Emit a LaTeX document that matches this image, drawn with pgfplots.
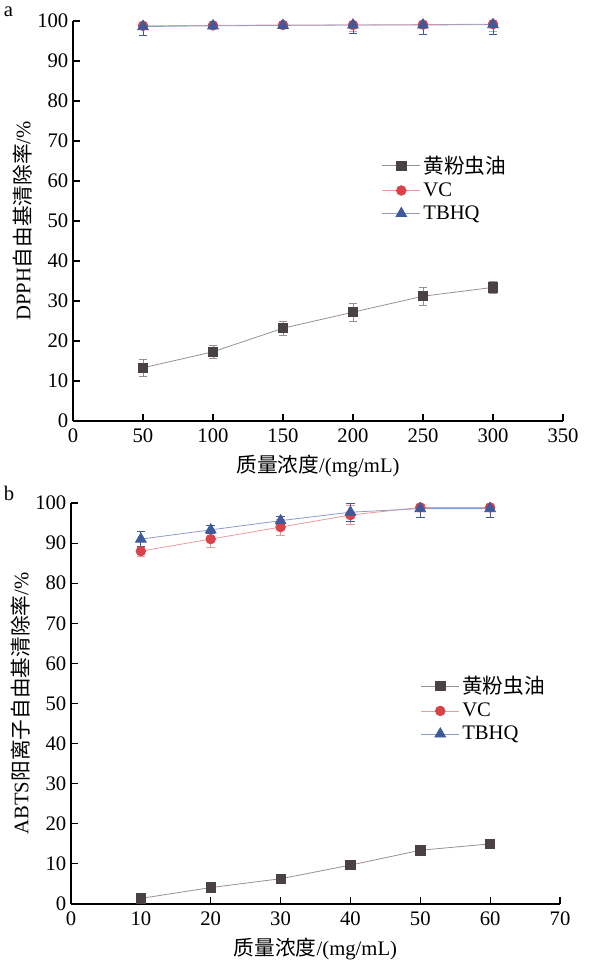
\documentclass[border=0pt]{standalone}
\usepackage{pgfplots}
\pgfplotsset{compat=1.18}
\usepackage{fontspec}
\setmainfont{Liberation Serif}
\newfontfamily\cjk{Noto Sans CJK SC}

\definecolor{oilc}{HTML}{4A4242}
\definecolor{oill}{HTML}{9A9090}
\definecolor{vcc}{HTML}{D8434A}
\definecolor{vcl}{HTML}{EC9A9C}
\definecolor{tbc}{HTML}{3F5A9A}
\definecolor{tbl}{HTML}{8E9CC6}

\pgfplotsset{
  panel/.style={
    scale only axis,
    axis lines=left,
    axis line style={-, black, line width=0.8pt},
    tick align=inside,
    major tick length=5pt,
    tick style={black, line width=0.8pt},
    ymin=0, ymax=100,
    ytick={0,10,...,100},
    /pgf/number format/assume math mode=true,
    tick label style={font=\fontsize{15.5}{17}\selectfont},
    xticklabel style={yshift=-2.5pt},
    label style={font=\fontsize{15.5}{17}\selectfont},
    xlabel style={yshift=-2pt},
    ylabel style={yshift=-3pt},
    legend style={draw=none, fill=none, font=\fontsize{15.5}{17}\selectfont,
      row sep=1.5pt, inner sep=0pt},
    legend cell align=left,
    legend image code/.code={
      \draw[mark repeat=2, mark phase=2]
        plot coordinates {(0cm,0cm) (0.5cm,0cm) (1cm,0cm)};},
    every axis plot/.append style={line width=0.6pt},
    error bars/y dir=both, error bars/y explicit,
    error bars/error bar style={line width=0.6pt},
    error bars/error mark options={rotate=90, mark size=3.2pt, line width=0.6pt},
  },
  oil/.style={color=oill, mark=square*, mark size=3.5pt,
    mark options={fill=oilc, draw=oilc},
    error bars/error bar style={color=oill}},
  vc/.style={color=vcl, mark=*, mark size=3.6pt,
    mark options={fill=vcc, draw=vcc},
    error bars/error bar style={color=vcl}},
  tb/.style={color=tbl, mark=triangle*, mark size=4.6pt,
    mark options={fill=tbc, draw=tbc},
    error bars/error bar style={color=tbc}},
}

\begin{document}
\begin{tikzpicture}
\useasboundingbox (-54.75pt,-409.5pt) rectangle (390pt,315.75pt);

\begin{axis}[panel,
  at={(0pt,0pt)}, anchor=origin,
  width=367.5pt, height=300pt,
  xmin=0, xmax=350, xtick={0,50,...,350},
  xlabel={{\cjk 质量浓度}/(mg/mL)},
  ylabel={DPPH{\cjk 自由基清除率}/\%},
  legend style={at={(0.63,0.67)}, anchor=north west},
]
\addplot[oil] coordinates {
  (50,13.3) +- (0,2.1)
  (100,17.3) +- (0,1.6)
  (150,23.2) +- (0,1.8)
  (200,27.2) +- (0,2.2)
  (250,31.2) +- (0,2.2)
  (300,33.4) +- (0,1.5)
};
\addlegendentry{{\cjk 黄粉虫油}}
\addplot[vc] coordinates {
  (50,98.8) +- (0,0.5)
  (100,98.9) +- (0,0.5)
  (150,99.0) +- (0,0.5)
  (200,99.0) +- (0,1.6)
  (250,99.1) +- (0,0.5)
  (300,99.2) +- (0,1.8)
};
\addlegendentry{VC}
\addplot[tb] coordinates {
  (50,98.6) +- (0,2.3)
  (100,98.8) +- (0,0.6)
  (150,98.9) +- (0,0.6)
  (200,99.0) +- (0,2.1)
  (250,99.0) +- (0,2.4)
  (300,99.1) +- (0,2.4)
};
\addlegendentry{TBHQ}
\end{axis}
\node[font=\fontsize{15.5}{17}\selectfont, anchor=north west, inner sep=0pt] at (-52pt,311pt) {a};

\begin{axis}[panel,
  at={(-1.5pt,-362.25pt)}, anchor=origin,
  width=366.75pt, height=300.75pt,
  xmin=0, xmax=70, xtick={0,10,...,70},
  xlabel={{\cjk 质量浓度}/(mg/mL)},
  ylabel={ABTS{\cjk 阳离子自由基清除率}/\%},
  legend style={at={(0.715,0.575)}, anchor=north west},
]
\addplot[oil] coordinates {
  (10,1.4) +- (0,1.0)
  (20,4.1) +- (0,0.8)
  (30,6.3) +- (0,1.2)
  (40,9.7) +- (0,0.9)
  (50,13.4) +- (0,0.8)
  (60,15.0) +- (0,1.2)
};
\addlegendentry{{\cjk 黄粉虫油}}
\addplot[vc] coordinates {
  (10,88.0) +- (0,1.3)
  (20,91.0) +- (0,2.1)
  (30,94.0) +- (0,2.0)
  (40,97.0) +- (0,2.3)
  (50,98.9) +- (0,0.8)
  (60,98.9) +- (0,0.8)
};
\addlegendentry{VC}
\addplot[tb] coordinates {
  (10,91.0) +- (0,1.8)
  (20,93.3) +- (0,1.0)
  (30,95.6) +- (0,1.0)
  (40,97.7) +- (0,2.2)
  (50,98.6) +- (0,2.2)
  (60,98.6) +- (0,2.2)
};
\addlegendentry{TBHQ}
\end{axis}
\node[font=\fontsize{15.5}{17}\selectfont, anchor=north west, inner sep=0pt] at (-52pt,-49pt) {b};
\end{tikzpicture}
\end{document}
